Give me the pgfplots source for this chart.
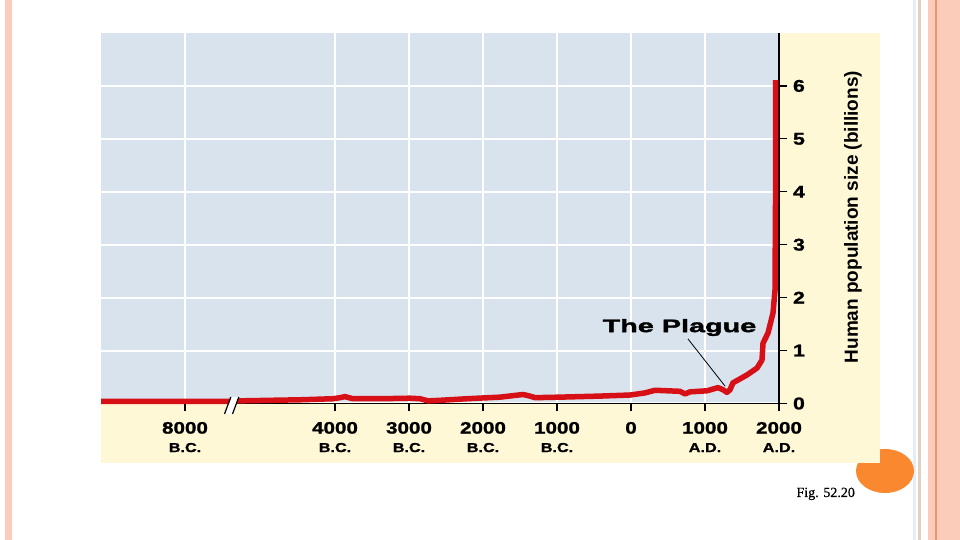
\documentclass[border=0pt]{standalone}
\usepackage{fontspec}
\setmainfont{Liberation Sans}
\newfontfamily\widesans[FakeStretch=1.25,FakeBold=1.2]{Liberation Sans}
\newfontfamily\plaguefont[FakeStretch=1.6,FakeBold=2.2]{Liberation Sans}
\newfontfamily\figfont[FakeBold=0.6]{Liberation Serif}
\usepackage{pgfplots}
\pgfplotsset{compat=1.18}
\definecolor{chartblue}{RGB}{217,227,237}
\definecolor{chartyellow}{RGB}{254,248,214}
\definecolor{popred}{RGB}{214,16,22}
\definecolor{salmon}{RGB}{252,204,186}
\definecolor{darksalmon}{RGB}{236,150,112}
\definecolor{dotorange}{RGB}{250,136,46}
\definecolor{lightline}{RGB}{228,238,248}
\definecolor{tanline}{RGB}{226,208,194}

\begin{document}
\begin{tikzpicture}[x=1pt,y=1pt]
\fill[white] (0,0) rectangle (960,540);
\useasboundingbox (0,0) rectangle (960,540);
% slide frame
\fill[salmon] (5,0) rectangle (12,540);
\fill[lightline] (913,0) rectangle (916,540);
\fill[tanline] (918,0) rectangle (921,540);
\fill[salmon] (928,0) rectangle (960,540);
\fill[darksalmon] (935,0) rectangle (937,540);
\fill[dotorange] (885,69) ellipse [x radius=29, y radius=22];
\fill[chartyellow] (101,77) rectangle (880,507);
\node[anchor=base west, font=\figfont\fontsize{14}{16}\selectfont] at (793,43) {Fig. 52.20};

\begin{axis}[
  at={(101pt,136.5pt)}, anchor=south west,
  scale only axis, width=678pt, height=370.5pt,
  xmin=-7162, xmax=2000, ymin=0, ymax=7,
  axis x line=bottom, axis y line=right,
  axis line style={-, black, line width=1.3pt},
  axis background/.style={fill=chartblue},
  xtick={-6027,-4000,-3000,-2000,-1000,0,1000,2000},
  xticklabels={{8000\\[1.5pt]{\fontsize{13}{15}\selectfont B.C.}},
               {4000\\[1.5pt]{\fontsize{13}{15}\selectfont B.C.}},
               {3000\\[1.5pt]{\fontsize{13}{15}\selectfont B.C.}},
               {2000\\[1.5pt]{\fontsize{13}{15}\selectfont B.C.}},
               {1000\\[1.5pt]{\fontsize{13}{15}\selectfont B.C.}},
               {0},
               {1000\\[1.5pt]{\fontsize{13}{15}\selectfont A.D.}},
               {2000\\[1.5pt]{\fontsize{13}{15}\selectfont A.D.}}},
  ytick={0,1,2,3,4,5,6},
  grid=major, major grid style={white, line width=2pt},
  tick style={black, line width=1.2pt},
  tick align=outside, major tick length=8pt,
  xticklabel style={align=center, yshift=-7pt,
                    font=\widesans\bfseries\fontsize{16.5}{17}\selectfont},
  yticklabel style={xshift=2.5pt, font=\widesans\bfseries\fontsize{17}{17}\selectfont},
  /pgf/number format/assume math mode=true,
  ylabel={Human population size (billions)},
  ylabel style={at={(axis description cs:1.1091,0.503)}, anchor=center,
                font=\bfseries\fontsize{19}{22}\selectfont},
  clip=false,
]
\addplot[color=popred, line width=5.5pt, line join=round, line cap=butt] coordinates {
  (-7162,0.04) (-5824,0.04) (-5419,0.04) (-5284,0.05) (-4473,0.07)
  (-4027,0.09) (-3932,0.11) (-3865,0.13) (-3757,0.09) (-3392,0.09)
  (-2986,0.10) (-2851,0.09) (-2743,0.05) (-2581,0.06) (-2216,0.09)
  (-1770,0.12) (-1459,0.17) (-1365,0.14) (-1297,0.11) (-959,0.12)
  (-419,0.14) (-14,0.16) (189,0.20) (324,0.25) (662,0.23)
  (730,0.18) (797,0.22) (1027,0.24) (1176,0.30) (1243,0.26)
  (1297,0.21) (1338,0.26) (1378,0.39) (1568,0.54) (1703,0.67)
  (1770,0.82) (1784,1.14) (1851,1.33) (1919,1.71) (1946,2.14)
  (1953,3.84) (1953,6.11)
};
\draw[black, line width=0.8pt] (axis cs:770,1.22) -- (axis cs:1270,0.33);
\node[font=\plaguefont\bfseries\fontsize{18}{20}\selectfont] at (axis cs:655,1.436) {The Plague};
\end{axis}
% axis break
\fill[white] (225.5,126) -- (232.5,126) -- (238.5,143) -- (231.5,143) -- cycle;
\draw[black, line width=1.2pt] (224.5,126) -- (230.8,143);
\draw[black, line width=1.2pt] (232.5,126) -- (238.8,143);
\end{tikzpicture}
\end{document}
